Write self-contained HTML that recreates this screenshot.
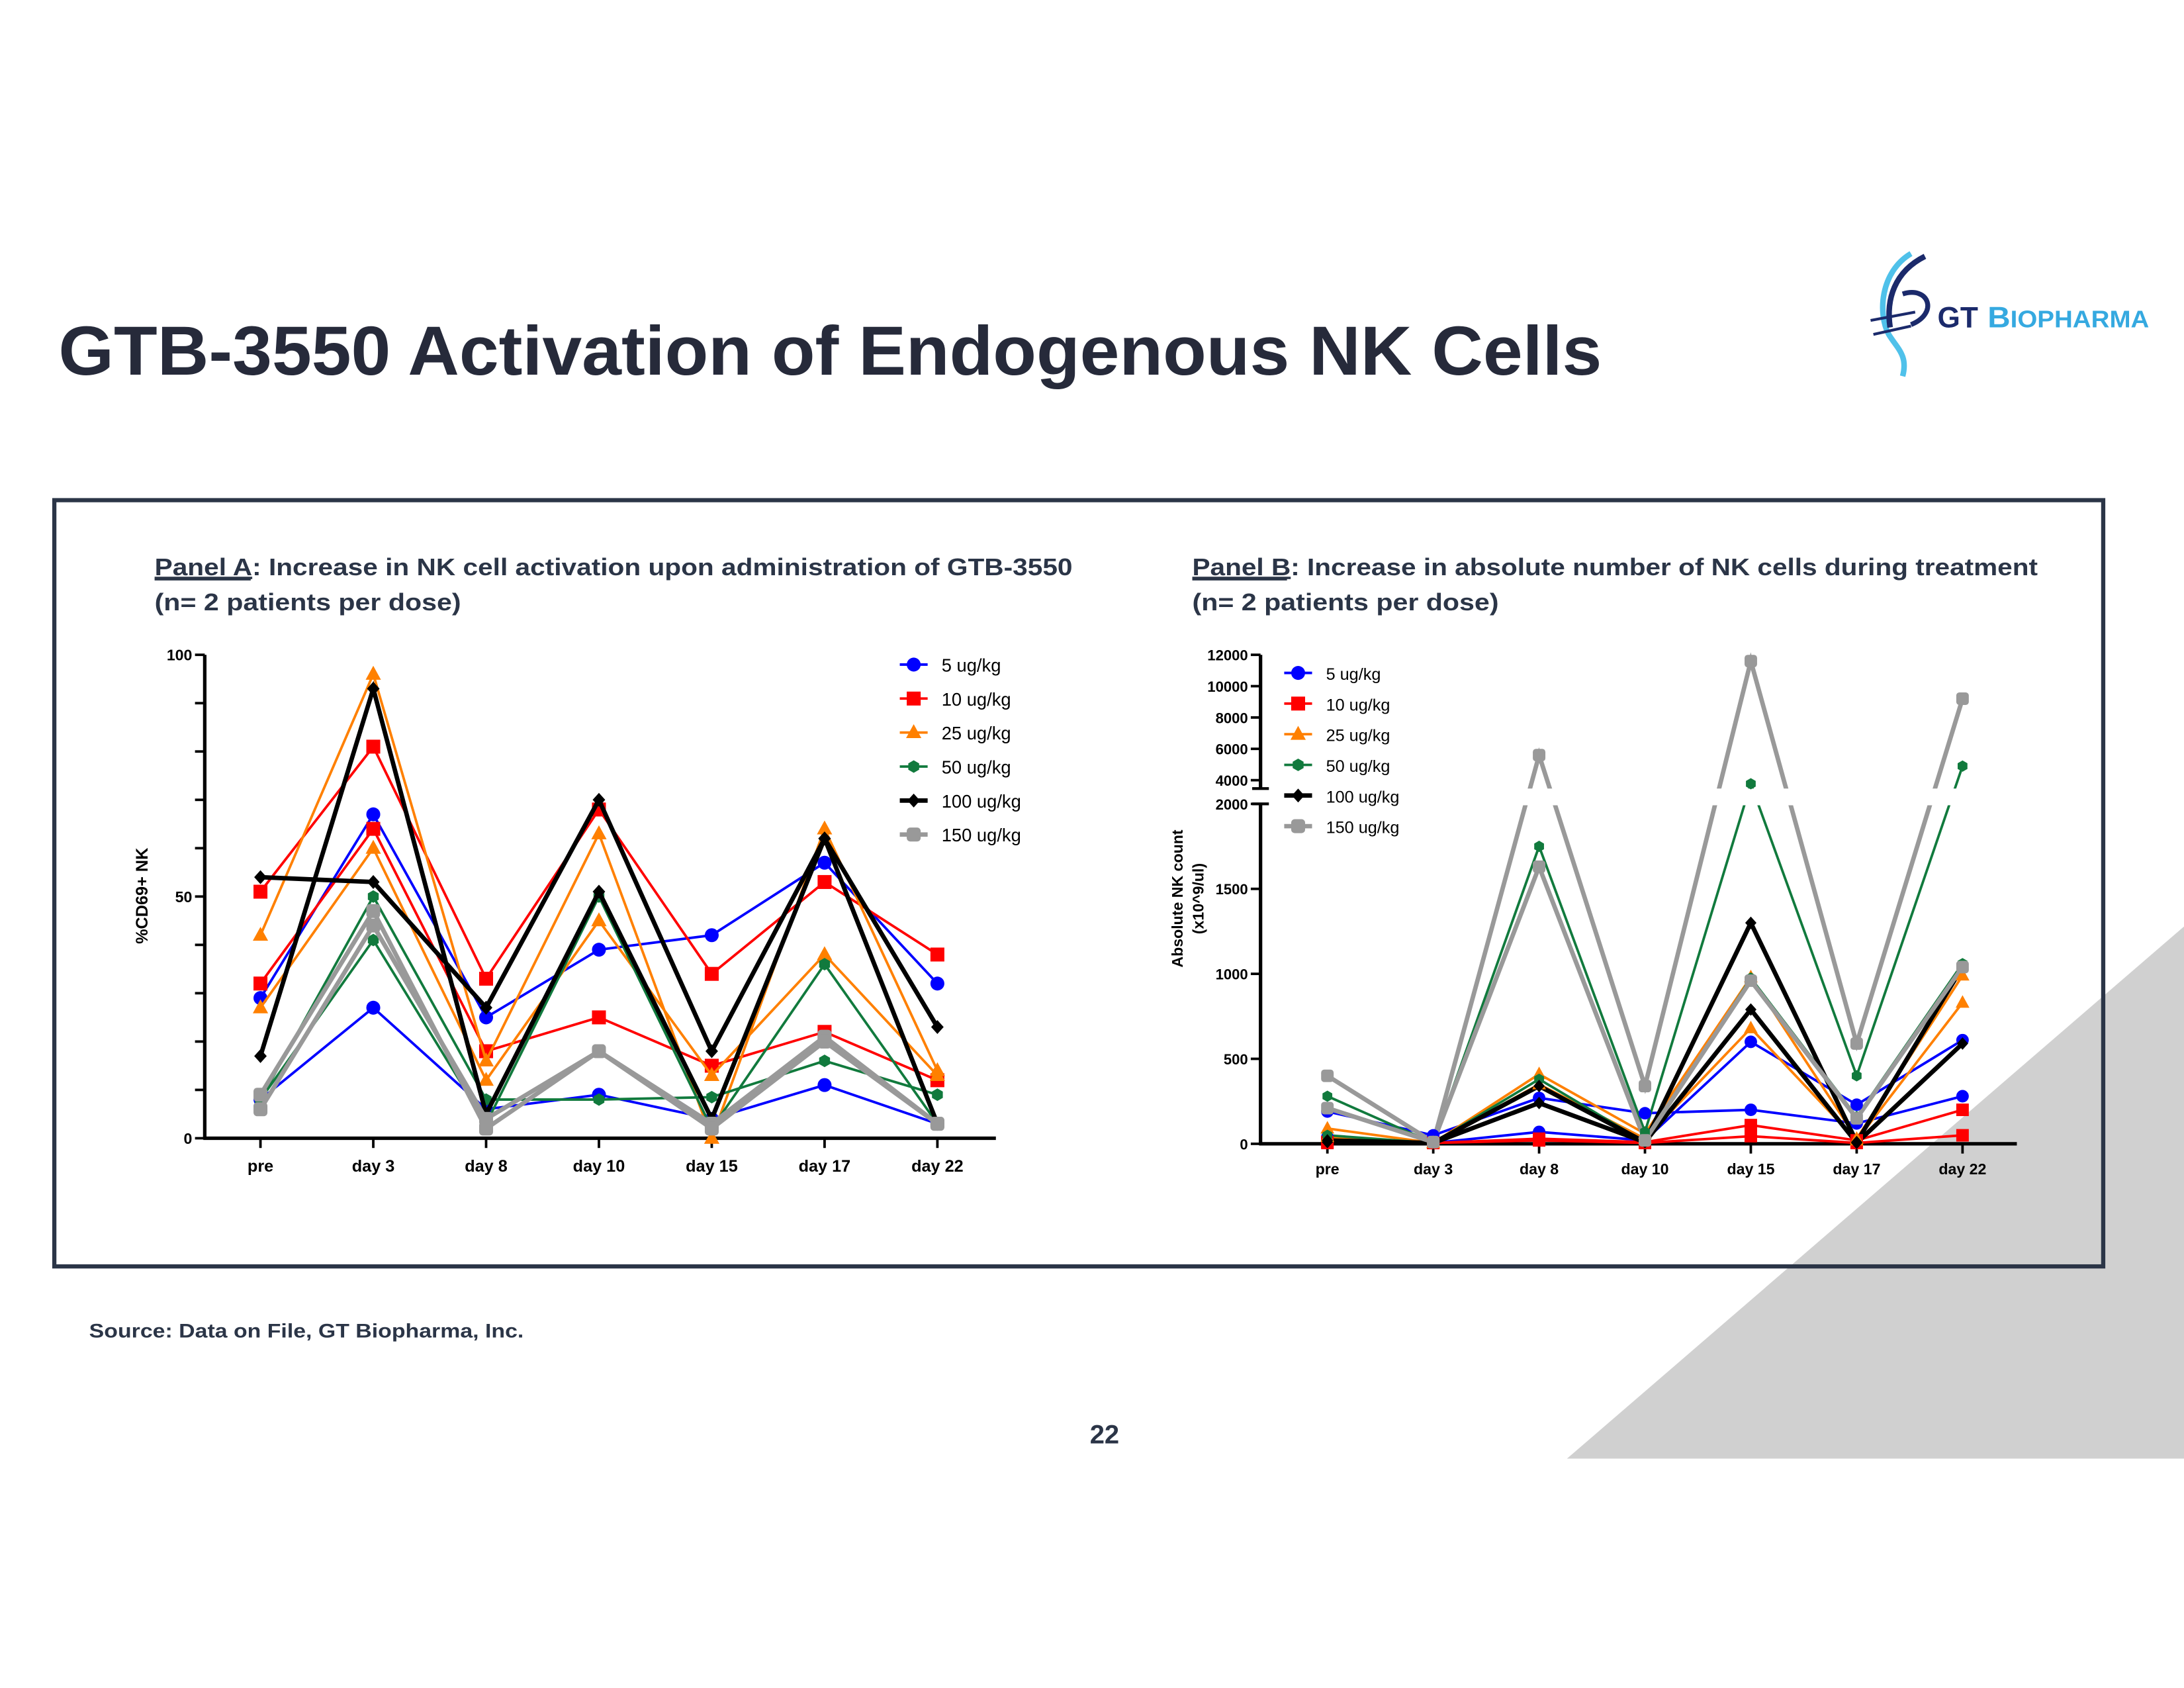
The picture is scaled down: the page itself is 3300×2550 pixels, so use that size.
<!DOCTYPE html>
<html><head><meta charset="utf-8"><style>
html,body{margin:0;padding:0;background:#fff;}
svg{display:block;font-family:"Liberation Sans",sans-serif;}
</style></head><body>
<svg id="s" width="3300" height="2550" viewBox="0 0 1568 1211.6" xmlns="http://www.w3.org/2000/svg">
<polygon points="1125,1047 1568,1047 1568,665" fill="#d0d0d0"/>
<text x="42" y="269" font-size="50" font-weight="bold" fill="#262a3a" textLength="1108" lengthAdjust="spacingAndGlyphs">GTB-3550 Activation of Endogenous NK Cells</text>
<g>
<path d="M1372,182 C1350,195 1348,225 1356,240 C1362,250 1370,255 1366,270" stroke="#4fc1ea" stroke-width="4" fill="none"/>
<path d="M1382,184 C1360,195 1354,215 1357,235" stroke="#1b2a6b" stroke-width="4" fill="none"/>
<path d="M1366,211 C1385,205 1392,225 1372,233" stroke="#1b2a6b" stroke-width="3.5" fill="none"/>
<path d="M1343,230 L1375,224 M1345,240 L1372,234" stroke="#1b2a6b" stroke-width="2"/>
<text x="1391" y="235" font-size="21" font-weight="bold" fill="#1b2a6b">GT</text>
<text x="1427" y="235" font-size="21" font-weight="bold" fill="#35a9e0" textLength="116" lengthAdjust="spacingAndGlyphs">B<tspan font-size="17">IOPHARMA</tspan></text>
</g>
<rect x="39" y="359" width="1471" height="550" fill="none" stroke="#2b3547" stroke-width="3"/>
<g font-size="17" font-weight="bold" fill="#2b3547">
<text x="111" y="413" textLength="659" lengthAdjust="spacingAndGlyphs"><tspan text-decoration="underline">Panel A</tspan>: Increase in NK cell activation upon administration of GTB-3550</text>
<text x="111" y="438" textLength="220" lengthAdjust="spacingAndGlyphs">(n= 2 patients per dose)</text>
<line x1="111" y1="416" x2="180" y2="416" stroke="#2b3547" stroke-width="1.3"/>
</g>
<g font-size="17" font-weight="bold" fill="#2b3547">
<text x="856" y="413" textLength="607" lengthAdjust="spacingAndGlyphs"><tspan text-decoration="underline">Panel B</tspan>: Increase in absolute number of NK cells during treatment</text>
<text x="856" y="438" textLength="220" lengthAdjust="spacingAndGlyphs">(n= 2 patients per dose)</text>
<line x1="856" y1="416" x2="924" y2="416" stroke="#2b3547" stroke-width="1.3"/>
</g>
<text x="64" y="960" font-size="14" font-weight="bold" fill="#2b3547" textLength="312" lengthAdjust="spacingAndGlyphs">Source:  Data on File, GT Biopharma, Inc.</text>
<text x="793" y="1036" font-size="19" font-weight="bold" fill="#2b3547" text-anchor="middle">22</text>
<g id="chartA"></g>
<g id="chartB"></g>
</svg>
<script>
const categories=["pre","day 3","day 8","day 10","day 15","day 17","day 22"];
const doses=["5 ug/kg","10 ug/kg","25 ug/kg","50 ug/kg","100 ug/kg","150 ug/kg"];
const aTicks=[0,50,100];
const a5a=[29,67,25,39,42,57,32], a5b=[8,27,6,9,4,11,3];
const a10a=[51,81,33,68,34,53,38], a10b=[32,64,18,25,15,22,12];
const a25a=[42,96,16,63,0,64,14], a25b=[27,60,12,45,13,38,13];
const a50a=[8,41,3,50,2,36,3], a50b=[8,50,8,8,8.5,16,9];
const a100a=[54,53,27,70,18,62,23], a100b=[17,93,5,51,4,62,3];
const a150a=[9,47,2,18,3,21,3], a150b=[6,44,4,18,2,20,3];
const bTicksLow=[0,500,1000,1500,2000];
const bTicksHigh=[4000,6000,8000,10000,12000];
const b5a=[190,50,270,180,200,120,280], b5b=[40,5,70,20,600,230,610];
const b10a=[10,5,30,10,110,20,200], b10b=[5,5,20,5,45,5,50];
const b25a=[90,5,410,60,980,30,990], b25b=[40,5,350,30,680,20,830];
const b50a=[280,5,1750,70,3700,400,4900], b50b=[50,5,380,10,975,160,1060];
const b100a=[20,5,340,10,1300,10,1040], b100b=[10,5,240,10,790,5,590];
const b150a=[400,10,5600,340,11600,590,9200], b150b=[210,10,1630,20,960,150,1040];

const NS="http://www.w3.org/2000/svg";
const colors=["#0000ff","#ff0000","#ff8000","#117a3d","#000000","#999999"];
const shapes=["circle","square","triangle","hex","diamond","plus"];
const widths=[1.8,1.8,1.8,1.8,3.2,3.2];
function mk(tag,attrs,parent){const e=document.createElementNS(NS,tag);for(const k in attrs)e.setAttribute(k,attrs[k]);parent.appendChild(e);return e;}
function marker(g,shape,x,y,c,r){
  let e;
  if(shape==="circle") e=mk("circle",{cx:x,cy:y,r:r,fill:c},g);
  else if(shape==="square") e=mk("rect",{x:x-r,y:y-r,width:2*r,height:2*r,fill:c},g);
  else if(shape==="triangle") e=mk("polygon",{points:`${x},${y-r*1.2} ${x-r*1.1},${y+r*0.8} ${x+r*1.1},${y+r*0.8}`,fill:c},g);
  else if(shape==="hex"){let p=[];for(let i=0;i<6;i++){const a=Math.PI/3*i+Math.PI/6;p.push((x+r*0.9*Math.cos(a))+","+(y+r*0.9*Math.sin(a)));}e=mk("polygon",{points:p.join(" "),fill:c},g);}
  else if(shape==="diamond") e=mk("polygon",{points:`${x},${y-r} ${x+r*0.9},${y} ${x},${y+r} ${x-r*0.9},${y}`,fill:c},g);
  else e=mk("rect",{x:x-r,y:y-r,width:2*r,height:2*r,rx:r*0.5,fill:c},g);
  
  
  return e;
}
function drawLine(g,xf,yf,vals,i){
  const pts=vals.map((v,k)=>xf(k)+","+yf(v)).join(" ");
  const pl=mk("polyline",{points:pts,fill:"none",stroke:colors[i],"stroke-width":widths[i],"stroke-linejoin":"miter"},g);
  
  
}
function drawMarkers(g,xf,yf,vals,i,r){vals.forEach((v,k)=>marker(g,shapes[i],xf(k),yf(v),colors[i],r));}
function legend(g,x,y0,dy,fs){
  doses.forEach((d,i)=>{
    const y=y0+i*dy;
    const lg=mk("g",{},g);
    
    
    mk("line",{x1:x-10,y1:y,x2:x+10,y2:y,stroke:colors[i],"stroke-width":widths[i]},lg);
    marker(lg,shapes[i],x,y,colors[i],5);
    const t=mk("text",{x:x+20,y:y+5,"font-size":fs,fill:"#000"},lg);t.textContent=d;
  });
}
// Panel A
(function(){
  const g=document.getElementById("chartA");
  const X0=147,X1=715,Y0=817,Y1=470;
  const xf=k=>187+k*81, yf=v=>Y0-(v/100)*(Y0-Y1);
  const ax=mk("g",{},g);
  
  
  mk("line",{x1:X0,y1:Y0+1,x2:X0,y2:Y1,stroke:"#000","stroke-width":2.5},ax);
  for(let v=0;v<=100;v+=10)mk("line",{x1:X0-7,y1:yf(v),x2:X0,y2:yf(v),stroke:"#000","stroke-width":1.8},ax);
  aTicks.forEach(v=>{const t=mk("text",{x:X0-9,y:yf(v)+4,"font-size":11,"font-weight":"bold","text-anchor":"end"},ax);t.textContent=v;});
  const xa=mk("g",{},g);
  
  
  mk("line",{x1:X0-1,y1:Y0,x2:X1,y2:Y0,stroke:"#000","stroke-width":2.5},xa);
  categories.forEach((c,k)=>{mk("line",{x1:xf(k),y1:Y0,x2:xf(k),y2:Y0+7,stroke:"#000","stroke-width":1.8},xa);const t=mk("text",{x:xf(k),y:Y0+24,"font-size":12,"font-weight":"bold","text-anchor":"middle"},xa);t.textContent=c;});
  const yl=mk("text",{x:0,y:0,"font-size":12,"font-weight":"bold","text-anchor":"middle",transform:"translate(106,643) rotate(-90)"},g);
  yl.textContent="%CD69+ NK";
  
  
  const series=[[a5a,a5b],[a10a,a10b],[a25a,a25b],[a50a,a50b],[a100a,a100b],[a150a,a150b]];
  series.forEach((pair,i)=>pair.forEach(v=>{drawLine(g,xf,yf,v,i);drawMarkers(g,xf,yf,v,i,5);}));
  const lg=mk("g",{},g);
  legend(lg,656,477,24.4,13);
})();
// Panel B
(function(){
  const g=document.getElementById("chartB");
  const X0=905,X1=1448,Y0=821;
  const xf=k=>953+k*76;
  const yf=v=>{ if(v<=2000) return Y0-v*0.122; if(v<4000) return 577-(v-2000)/2000*17; return 560-(v-4000)*0.01125; };
  const ax=mk("g",{},g);
  
  
  mk("line",{x1:X0,y1:Y0+1,x2:X0,y2:577,stroke:"#000","stroke-width":2.5},ax);
  mk("line",{x1:X0,y1:566,x2:X0,y2:470,stroke:"#000","stroke-width":2.5},ax);
  mk("line",{x1:X0-6,y1:566,x2:X0+6,y2:566,stroke:"#000","stroke-width":2},ax);
  mk("line",{x1:X0-6,y1:577,x2:X0+6,y2:577,stroke:"#000","stroke-width":2},ax);
  bTicksLow.concat(bTicksHigh).forEach(v=>{mk("line",{x1:X0-7,y1:yf(v),x2:X0,y2:yf(v),stroke:"#000","stroke-width":1.8},ax);const t=mk("text",{x:X0-9,y:yf(v)+4,"font-size":10.5,"font-weight":"bold","text-anchor":"end"},ax);t.textContent=v;});
  const xa=mk("g",{},g);
  
  
  mk("line",{x1:X0-1,y1:Y0,x2:X1,y2:Y0,stroke:"#000","stroke-width":2.5},xa);
  categories.forEach((c,k)=>{mk("line",{x1:xf(k),y1:Y0,x2:xf(k),y2:Y0+7,stroke:"#000","stroke-width":1.8},xa);const t=mk("text",{x:xf(k),y:Y0+22,"font-size":11,"font-weight":"bold","text-anchor":"middle"},xa);t.textContent=c;});
  const yl=mk("text",{x:0,y:0,"font-size":11,"font-weight":"bold","text-anchor":"middle",transform:"translate(849,645) rotate(-90)"},g);
  yl.textContent="Absolute NK count";
  
  
  const yl2=mk("text",{x:0,y:0,"font-size":11,"font-weight":"bold","text-anchor":"middle",transform:"translate(864,645) rotate(-90)"},g);
  yl2.textContent="(x10^9/ul)";
  
  
  const series=[[b5a,b5b],[b10a,b10b],[b25a,b25b],[b50a,b50b],[b100a,b100b],[b150a,b150b]];
  series.forEach((pair,i)=>pair.forEach(v=>drawLine(g,xf,yf,v,i)));
  const gap=mk("rect",{x:912,y:566,width:530,height:12,fill:"#fff"},g);
  
  
  series.forEach((pair,i)=>pair.forEach(v=>drawMarkers(g,xf,yf,v,i,4.5)));
  const lg=mk("g",{},g);
  mk("rect",{x:915,y:472,width:100,height:128,fill:"#fff"},lg);
  legend(lg,932,483,22,12);
})();
</script>
</body></html>
